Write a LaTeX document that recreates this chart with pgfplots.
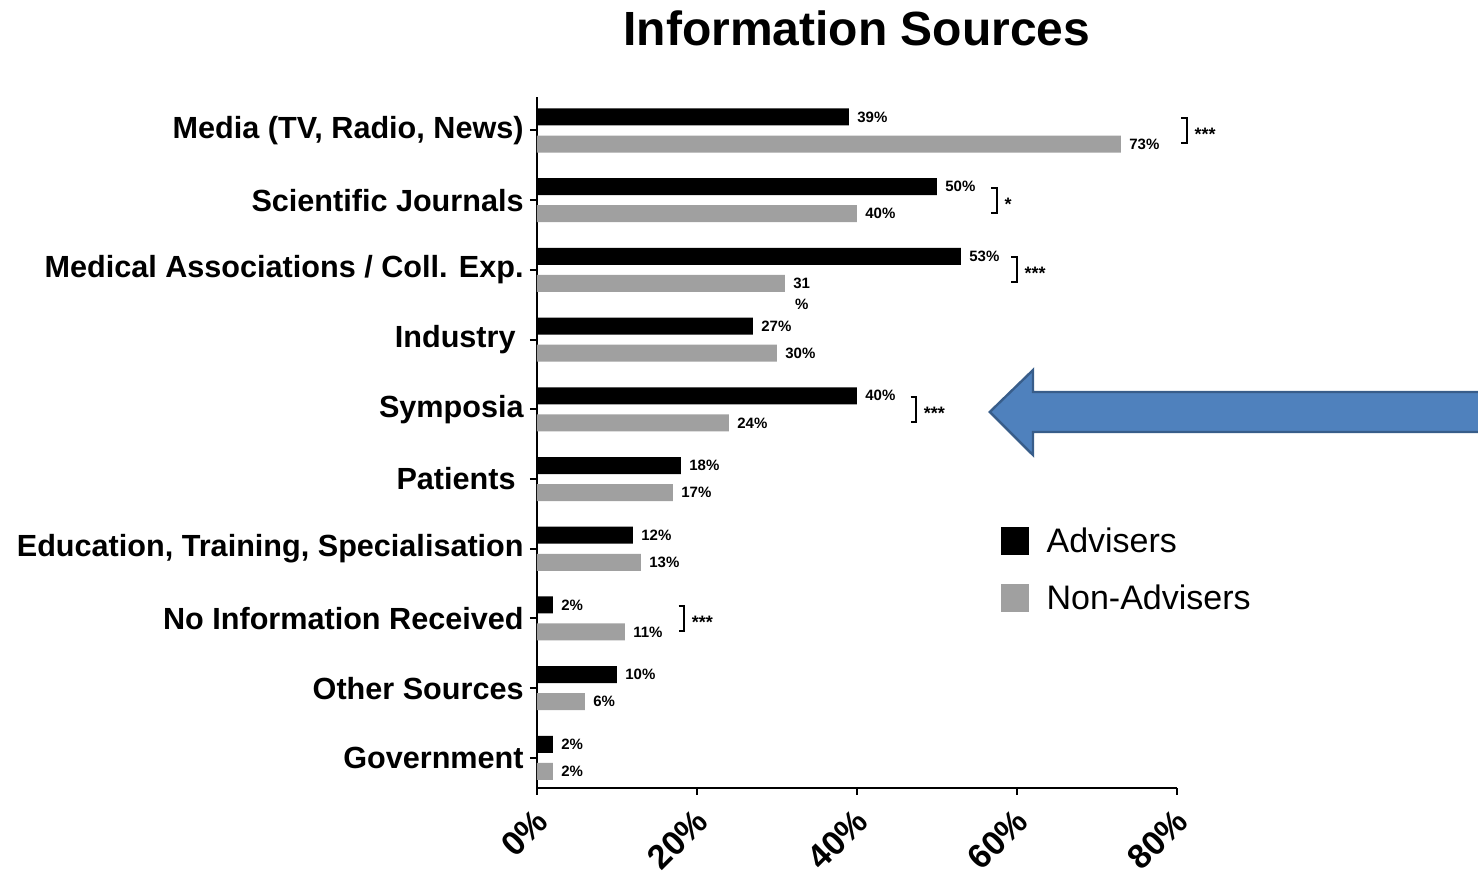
\documentclass[border=0pt]{standalone}
\usepackage{fontspec}
\setmainfont{Liberation Sans}
\usepackage{pgfplots}
\pgfplotsset{compat=1.18}
\definecolor{ngray}{RGB}{160,160,160}
\definecolor{arrowfill}{RGB}{79,129,189}
\definecolor{arrowdraw}{RGB}{56,93,138}
\newcommand{\sig}[3]{%
  \draw[line width=1pt] (axis cs:#1-0.7,#2+0.18) -- (axis cs:#1,#2+0.18) -- (axis cs:#1,#2-0.18) -- (axis cs:#1-0.7,#2-0.18);
  \node[anchor=base west, inner sep=0pt, yshift=-5pt, font=\bfseries\fontsize{9}{9}\selectfont] at (axis cs:#1+0.9,#2) {#3};}
\begin{document}
\begin{tikzpicture}
\begin{axis}[
  scale only axis,
  width=320pt, height=345.5pt,
  xmin=0, xmax=80, ymin=-0.43, ymax=9.483,
  xbar, bar width=8.5pt, bar shift=0pt,
  axis x line*=bottom, axis y line*=left,
  axis line style={line width=1pt, -},
  every tick/.style={black, line width=1pt},
  tick align=outside, major tick length=3.5pt,
  xtick={0,20,40,60,80},
  xticklabels={0\%,20\%,40\%,60\%,80\%},
  xticklabel style={rotate=45, anchor=east, font=\bfseries\fontsize{17}{17}\selectfont, inner sep=0pt, yshift=-8.9pt, xshift=-5.5pt},
  ytick={0,...,9},
  yticklabels={Government, Other Sources, No Information Received, {Education, Training, Specialisation}, Patients\kern4pt, Symposia, Industry\kern4pt, Medical Associations / Coll. Exp., Scientific Journals, {Media (TV, Radio, News)}},
  yticklabel style={font=\bfseries\fontsize{15.3}{16}\selectfont, inner sep=0pt, xshift=-3pt},
  point meta=explicit symbolic,
  nodes near coords,
  nodes near coords style={font=\bfseries\fontsize{7.5}{8}\selectfont, anchor=west, inner sep=0pt, xshift=4pt, text=black},
  clip=false,
  legend style={at={(axis cs:57.9,3.313)}, anchor=north west, draw=none, fill=none, inner sep=0pt,
    row sep=14.5pt, font=\fontsize{17}{17}\selectfont, legend cell align=left,
    nodes={inner sep=0pt}},
  legend image code/.code={\fill[#1] (0pt,-7pt) rectangle (14pt,7pt); \path (23pt,0pt);},
]
\addplot[fill=black, draw=none] coordinates {
  (39,9.194) [39\%]
  (50,8.194) [50\%]
  (53,7.194) [53\%]
  (27,6.194) [27\%]
  (40,5.194) [40\%]
  (18,4.194) [18\%]
  (12,3.194) [12\%]
  (2,2.194) [2\%]
  (10,1.194) [10\%]
  (2,0.194) [2\%]
};
\addlegendentry{Advisers}
\addplot[fill=ngray, draw=none] coordinates {
  (73,8.806) [73\%]
  (40,7.806) [40\%]
  (31,6.806) [{31\smash{\makebox[0pt][r]{\raisebox{-10.5pt}{\%\kern0.8pt}}}}]
  (30,5.806) [30\%]
  (24,4.806) [24\%]
  (17,3.806) [17\%]
  (13,2.806) [13\%]
  (11,1.806) [11\%]
  (6,0.806) [6\%]
  (2,-0.194) [2\%]
};
\addlegendentry{Non-Advisers}
\sig{81.25}{9}{***}
\sig{57.5}{8}{*}
\sig{60}{7}{***}
\sig{47.4}{5}{***}
\sig{18.4}{2}{***}
\draw[fill=arrowfill, draw=arrowdraw, line width=1.2pt] (axis cs:56.6,4.962) -- (axis cs:62,5.563) -- (axis cs:62,5.248) -- (axis cs:118,5.248) -- (axis cs:118,4.674) -- (axis cs:62,4.674) -- (axis cs:62,4.344) -- cycle;
\node[anchor=base, inner sep=0pt, font=\bfseries\fontsize{24}{24}\selectfont] at (axis cs:40,10.226) {Information Sources};
\coordinate (bbSW) at (axis cs:-67.125,-1.678);
\coordinate (bbNE) at (axis cs:117.625,10.872);
\end{axis}
\pgfresetboundingbox
\useasboundingbox (bbSW) rectangle (bbNE);
\end{tikzpicture}
\end{document}
